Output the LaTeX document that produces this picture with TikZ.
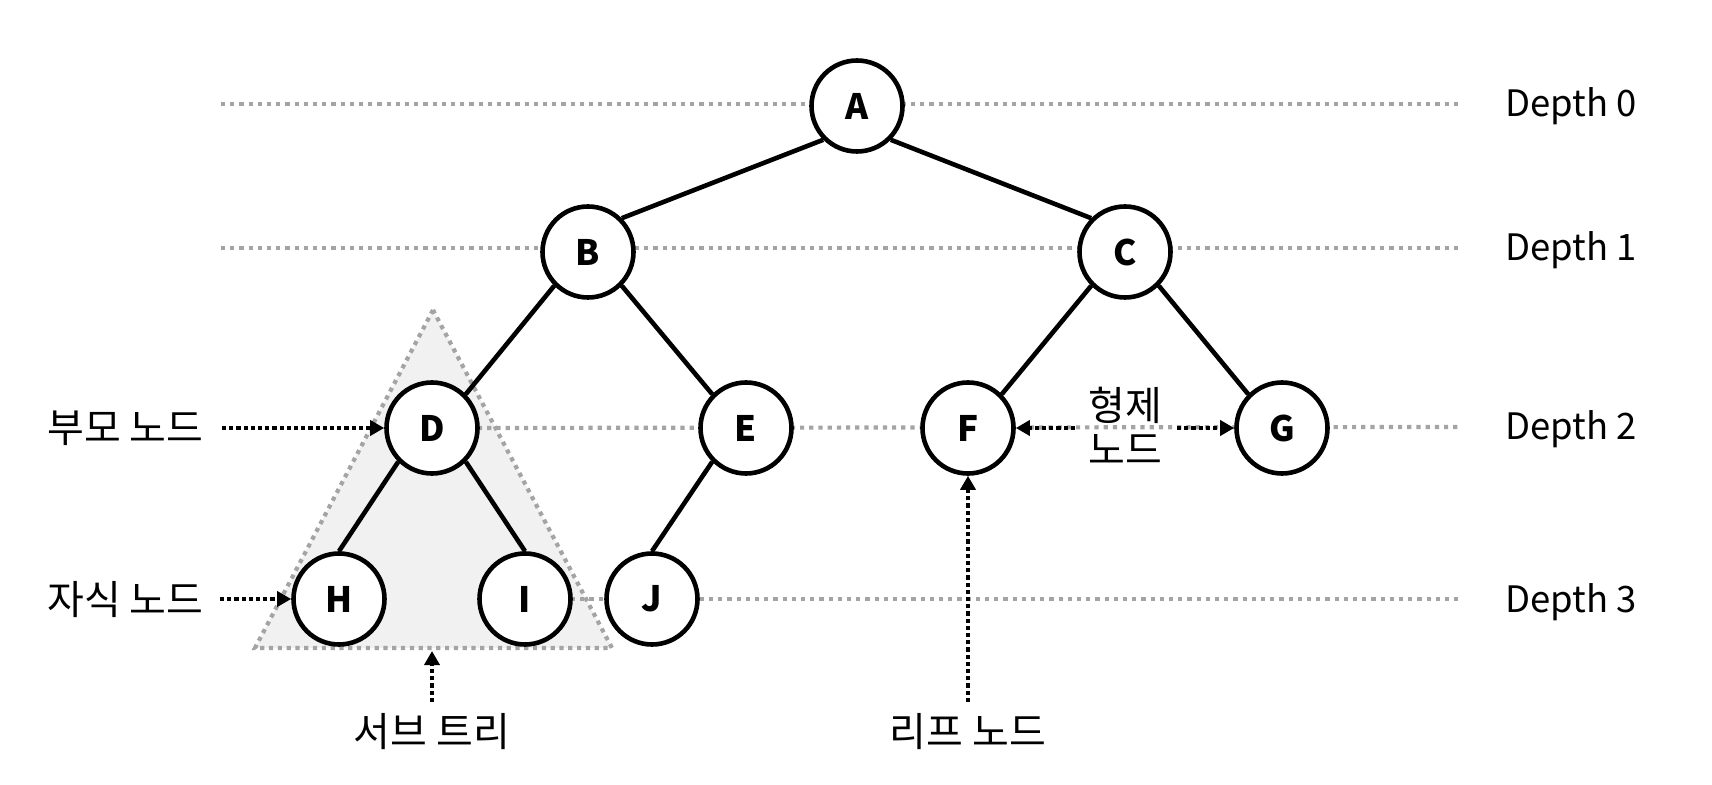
\documentclass[tikz,border=0pt]{standalone}
\usepackage{fontspec}
\setmainfont{Noto Sans CJK KR}
\usetikzlibrary{arrows.meta,backgrounds}
\definecolor{lgray}{RGB}{164,164,164}
\definecolor{tfill}{RGB}{241,241,241}
\begin{document}
\begin{tikzpicture}[x=0.5pt,y=-0.5pt,
  tn/.style={circle, draw=black, line width=2.3pt, fill=white, minimum size=45.5pt, inner sep=0pt, font=\fontsize{17.5}{20}\selectfont\bfseries},
  edge/.style={line width=2.3pt, draw=black},
  depthline/.style={line width=2.1pt, draw=lgray, dash pattern=on 2.1pt off 2.5pt},
  subtri/.style={line width=2.1pt, draw=lgray, fill=tfill, dash pattern=on 2.1pt off 2.3pt},
  ptr/.style={line width=2.3pt, draw=black, dash pattern=on 2.1pt off 1.5pt, -{Triangle[length=7pt,width=7.5pt]}},
  lbl/.style={font=\fontsize{18.2}{21.5}\selectfont, inner sep=0pt, align=center},
  klbl/.style={font=\fontsize{20}{21.5}\selectfont, inner sep=0pt, align=center},
]
\useasboundingbox (0,0) rectangle (1712,785);

% tree nodes
\node[tn] (A) at (857,106) {A};
\node[tn] (B) at (588,252) {B};
\node[tn] (C) at (1125,252) {C};
\node[tn] (D) at (432,428) {D};
\node[tn] (E) at (746,428) {E};
\node[tn] (F) at (968,428) {F};
\node[tn] (G) at (1282,428) {G};
\node[tn] (H) at (339,599) {H};
\node[tn] (I) at (525,599) {I};
\node[tn] (J) at (652,599) {J};

% coordinates
\coordinate (tA) at (433,310);
\coordinate (tL) at (255,648);
\coordinate (tR) at (612,648);
\coordinate (d0l) at (221,104);
\coordinate (d0r) at (1458,104);
\coordinate (d1l) at (221,248);
\coordinate (d1r) at (1458,248);
\coordinate (d2r) at (1458,427);
\coordinate (d3r) at (1458,599);

\begin{pgfonlayer}{background}
  \path[subtri] (tA) -- (tL) -- (tR) -- cycle;
  \draw[depthline] (d0l) -- (d0r);
  \draw[depthline] (d1l) -- (d1r);
  \draw[depthline] (D.center) -- (d2r);
  \draw[depthline] (I.center) -- (d3r);
\end{pgfonlayer}

% edges
\draw[edge] (A.south west) -- (B.north east);
\draw[edge] (A.south east) -- (C.north west);
\draw[edge] (B.south west) -- (D.north east);
\draw[edge] (B.south east) -- (E.north west);
\draw[edge] (C.south west) -- (F.north east);
\draw[edge] (C.south east) -- (G.north west);
\draw[edge] (D.south west) -- (H.north);
\draw[edge] (D.south east) -- (I.north);
\draw[edge] (E.south west) -- (J.north);

% depth labels
\node[lbl, anchor=base west] (L0) at (1505,117) {Depth 0};
\node[lbl, anchor=base west] (L1) at (1505,261) {Depth 1};
\node[lbl, anchor=base west] (L2) at (1505,440) {Depth 2};
\node[lbl, anchor=base west] (L3) at (1505,612) {Depth 3};

% annotations
\node[klbl, anchor=base west] (par) at (47,443) {부모 노드};
\coordinate (pars) at (222,428);
\draw[ptr] (pars) -- (D.west);

\node[klbl, anchor=base west] (chi) at (47,614) {자식 노드};
\coordinate (chis) at (220,599);
\draw[ptr] (chis) -- (H.west);

\node[klbl, anchor=base] (sub) at (432,746) {서브 트리};
\coordinate (subs) at (432,702);
\coordinate (subt) at (432,651);
\draw[ptr] (subs) -- (subt);

\node[klbl, anchor=base] (leaf) at (968,746) {리프 노드};
\coordinate (leafs) at (968,702);
\draw[ptr] (leafs) -- (F.south);

\node[klbl, font=\fontsize{20}{22}\selectfont] (sib) at (1125,426) {형제\\노드};
\coordinate (sibl) at (1075,428);
\coordinate (sibr) at (1177,428);
\draw[ptr] (sibl) -- (F.east);
\draw[ptr] (sibr) -- (G.west);
\end{tikzpicture}
\end{document}
